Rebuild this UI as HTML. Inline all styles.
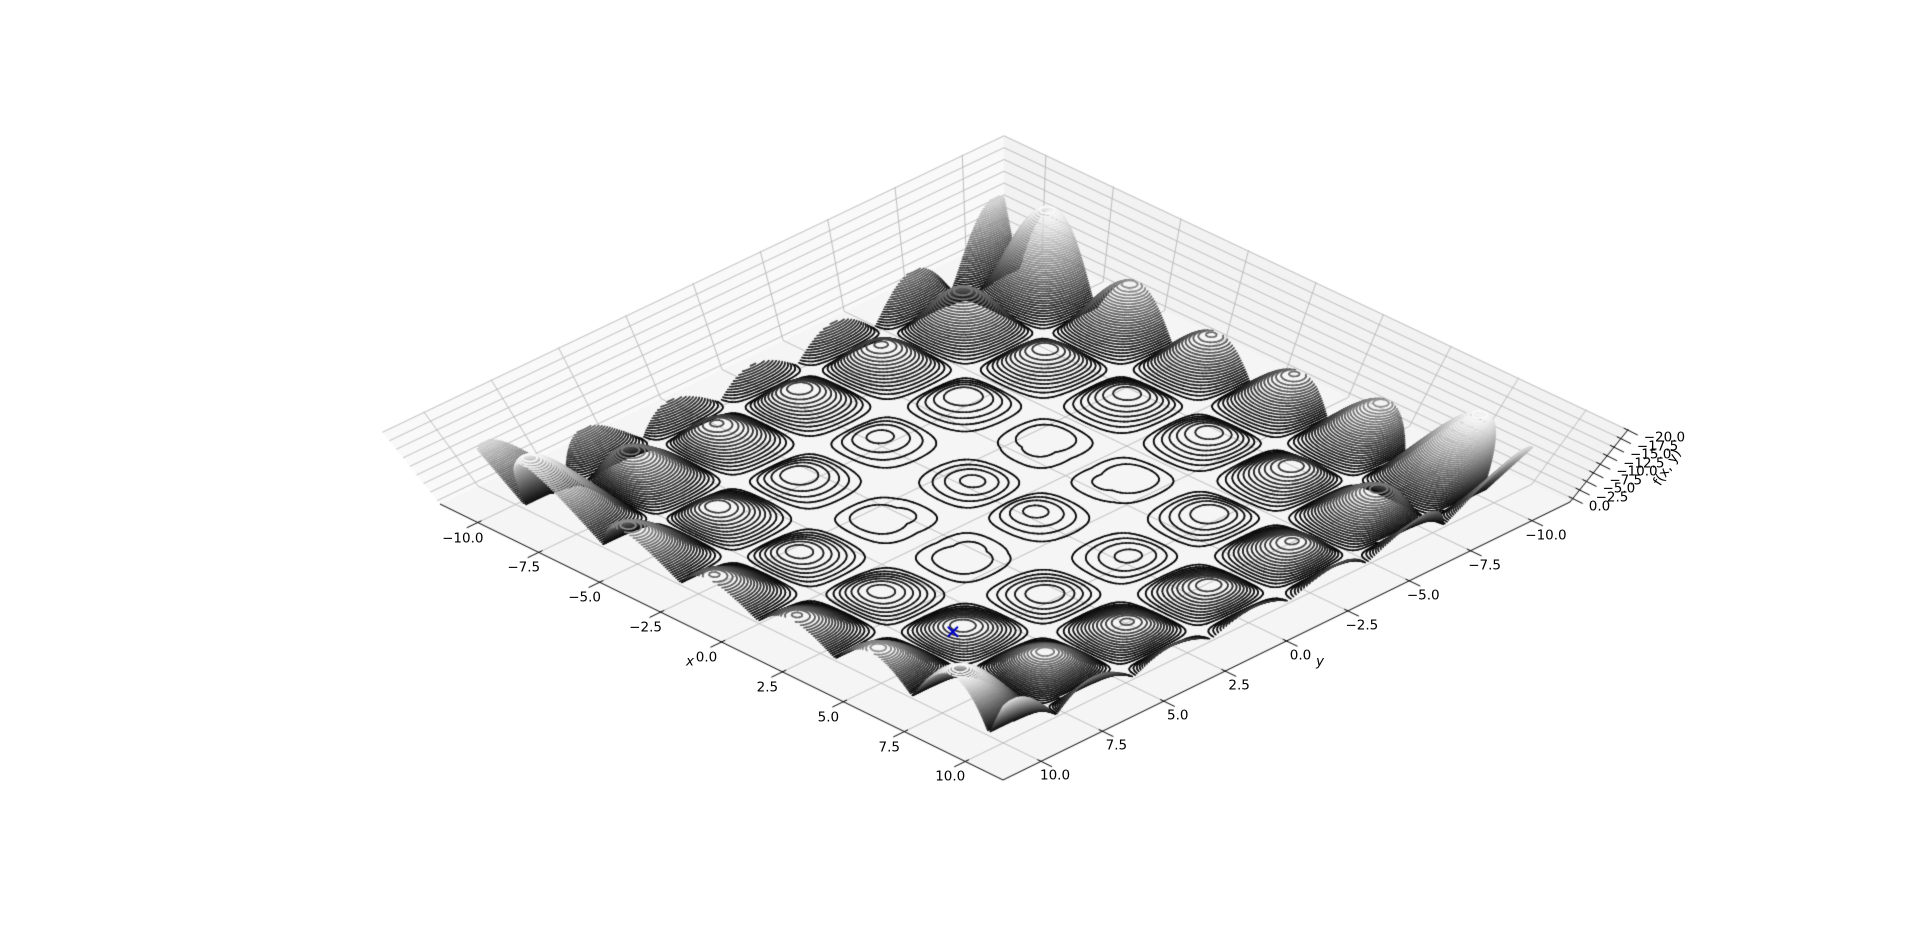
<!DOCTYPE html>
<html><head><meta charset="utf-8">
<style>
html,body{margin:0;padding:0;background:#fff;}
#wrap{position:relative;width:1920px;height:947px;overflow:hidden;font-family:"DejaVu Sans","Liberation Sans",sans-serif;}
canvas{position:absolute;left:0;top:0;}
.lbl{position:absolute;font-size:13.5px;color:#000;white-space:nowrap;line-height:1;}
</style></head>
<body>
<div id="wrap">
<canvas id="cv" width="1920" height="947"></canvas>
</div>
<script>
// ---- chart data ----
const xTicks = [-10, -7.5, -5, -2.5, 0, 2.5, 5, 7.5, 10];
const yTicks = [-10, -7.5, -5, -2.5, 0, 2.5, 5, 7.5, 10];
const zTicks = [0, -2.5, -5, -7.5, -10, -12.5, -15, -17.5, -20];
const xTickLabels = ["\u221210.0","\u22127.5","\u22125.0","\u22122.5","0.0","2.5","5.0","7.5","10.0"];
const yTickLabels = ["\u221210.0","\u22127.5","\u22125.0","\u22122.5","0.0","2.5","5.0","7.5","10.0"];
const zTickLabels = ["0.0","\u22122.5","\u22125.0","\u22127.5","\u221210.0","\u221212.5","\u221215.0","\u221217.5","\u221220.0"];
const domainX = [-10, 10];
const domainY = [-10, 10];
const levelRange = [-19.2, 0];
const levelCount = 49;
const markerPoint = [4.95, 6.98, -4.45];
// Holder table surface
function holder(x, y){ return -Math.abs(Math.sin(x)*Math.cos(y)*Math.exp(Math.abs(1 - Math.sqrt(x*x+y*y)/Math.PI))); }

// ---- projection ----
const H = 11.55;
const F=[1004,235], B=[1003,780], L=[440,504], R=[1570,502], VP=[1004,1207];
const Z0 = 1.0, Z1 = -20.2, KTOP = 1.103;
function proj(x,y,z){
  const u=(x+H)/(2*H), v=(y+H)/(2*H);
  const a=(1-u)*(1-v), b=u*v, c=(1-u)*v, d=u*(1-v);
  const px=F[0]*a+B[0]*b+L[0]*c+R[0]*d;
  const py=F[1]*a+B[1]*b+L[1]*c+R[1]*d;
  const k=1+(KTOP-1)*(Z0-z)/(Z0-Z1);
  return [VP[0]+k*(px-VP[0]), VP[1]+k*(py-VP[1])];
}
const cv=document.getElementById('cv');
const ctx=cv.getContext('2d');
const wrap=document.getElementById('wrap');
function poly(pts, fill){ctx.beginPath();pts.forEach((p,i)=>i?ctx.lineTo(p[0],p[1]):ctx.moveTo(p[0],p[1]));ctx.closePath();ctx.fillStyle=fill;ctx.fill();}
function line(p,q,col,w){ctx.beginPath();ctx.moveTo(p[0],p[1]);ctx.lineTo(q[0],q[1]);ctx.strokeStyle=col;ctx.lineWidth=w;ctx.stroke();}

// panes
poly([proj(-H,-H,Z0),proj(H,-H,Z0),proj(H,H,Z0),proj(-H,H,Z0)],'#f5f5f5');
poly([proj(-H,-H,Z0),proj(-H,H,Z0),proj(-H,H,Z1),proj(-H,-H,Z1)],'#f9f9f9');
poly([proj(-H,-H,Z0),proj(H,-H,Z0),proj(H,-H,Z1),proj(-H,-H,Z1)],'#f2f2f2');
const gc='#b8b8b8';
xTicks.forEach(t=>{line(proj(t,-H,Z0),proj(t,H,Z0),gc,0.9);line(proj(t,-H,Z0),proj(t,-H,Z1),gc,0.9);});
yTicks.forEach(t=>{line(proj(-H,t,Z0),proj(H,t,Z0),gc,0.9);line(proj(-H,t,Z0),proj(-H,t,Z1),gc,0.9);});
zTicks.forEach(t=>{line(proj(-H,-H,t),proj(-H,H,t),gc,0.9);line(proj(-H,-H,t),proj(H,-H,t),gc,0.9);});
// axes lines
line(proj(-H,H,Z0),proj(H,H,Z0),'#000',1);
line(proj(H,H,Z0),proj(H,-H,Z0),'#000',1);
line(proj(H,-H,Z0),proj(H,-H,Z1),'#000',1);

function addLabel(text,cx,cy,name,anchor,rot){
  const d=document.createElement('div');
  d.className='lbl';d.textContent=text;
  
  
  d.style.left=cx+'px';d.style.top=cy+'px';
  d.style.transform=(anchor==='left'?'translate(0,-50%)':'translate(-50%,-50%)')+(rot?' rotate('+rot+'deg)':'');
  wrap.appendChild(d);
  return d;
}
xTicks.forEach((t,i)=>{
  const p=proj(t,H-0.15,Z0), q=proj(t,H+0.45,Z0);line(p,q,'#000',1);
  const b=proj(t,H,Z0);addLabel(xTickLabels[i],b[0]-15,b[1]+16,'x-tick-label','c');
});
yTicks.forEach((t,i)=>{
  const p=proj(H-0.15,t,Z0), q=proj(H+0.45,t,Z0);line(p,q,'#000',1);
  const b=proj(H,t,Z0);addLabel(yTickLabels[i],b[0]+14,b[1]+15,'y-tick-label','c');
});
zTicks.forEach((t,i)=>{
  const b=proj(H,-H,t);line([b[0]-4,b[1]-2],[b[0]+10,b[1]+5],'#000',1);
  addLabel(zTickLabels[i],b[0]+16,b[1]+8,'z-tick-label','left');
});
addLabel('x',690,662,'x-axis-title','c').style.fontStyle='italic';
addLabel('y',1320,662,'y-axis-title','c').style.fontStyle='italic';
addLabel('f(x, y)',1668,468,'z-axis-title','c',-58);

// ---- contours ----
const N=260;
const gx=[];
for(let i=0;i<=N;i++) gx.push(domainX[0]+(domainX[1]-domainX[0])*i/N);
const gy=[];for(let j=0;j<=N;j++) gy.push(domainY[0]+(domainY[1]-domainY[0])*j/N);
const Zg=new Float64Array((N+1)*(N+1));
for(let i=0;i<=N;i++)for(let j=0;j<=N;j++)Zg[i*(N+1)+j]=holder(gx[i],gy[j]);
const levels=[];
for(let l=0;l<levelCount;l++) levels.push(levelRange[0]+(levelRange[1]-levelRange[0])*l/(levelCount-1)+0.0001);
const segs=[];
function interp(a,b,va,vb,lv){const t=(lv-va)/(vb-va);return a+(b-a)*t;}
for(let i=0;i<N;i++)for(let j=0;j<N;j++){
  const v00=Zg[i*(N+1)+j],v10=Zg[(i+1)*(N+1)+j],v11=Zg[(i+1)*(N+1)+j+1],v01=Zg[i*(N+1)+j+1];
  const mn=Math.min(v00,v10,v11,v01),mx=Math.max(v00,v10,v11,v01);
  const x0=gx[i],x1=gx[i+1],y0=gy[j],y1=gy[j+1];
  for(let l=0;l<levels.length;l++){
    const lv=levels[l]; if(lv<mn||lv>mx)continue;
    const pts=[];
    if((v00<lv)!==(v10<lv))pts.push([interp(x0,x1,v00,v10,lv),y0]);
    if((v10<lv)!==(v11<lv))pts.push([x1,interp(y0,y1,v10,v11,lv)]);
    if((v11<lv)!==(v01<lv))pts.push([interp(x1,x0,v11,v01,lv),y1]);
    if((v01<lv)!==(v00<lv))pts.push([x0,interp(y1,y0,v01,v00,lv)]);
    if(pts.length>=2){segs.push([pts[0],pts[1],l]);if(pts.length===4)segs.push([pts[2],pts[3],l]);}
  }
}
segs.forEach(s=>{s.push((s[0][0]+s[0][1]+s[1][0]+s[1][1])/40 + (-levels[s[2]])*0.012);});
segs.sort((a,b)=>a[3]-b[3]);
ctx.lineWidth=1.6;ctx.lineCap='round';
const lmin=levels[0],lmax=levels[levels.length-1];
segs.forEach(s=>{
  const lv=levels[s[2]];
  const t=(lv-lmin)/(lmax-lmin);
  const g=Math.round(255*(1-t));
  const p=proj(s[0][0],s[0][1],lv),q=proj(s[1][0],s[1][1],lv);
  ctx.beginPath();ctx.moveTo(p[0],p[1]);ctx.lineTo(q[0],q[1]);
  ctx.strokeStyle='rgb('+g+','+g+','+g+')';ctx.stroke();
});
// marker
const mp=proj(markerPoint[0],markerPoint[1],markerPoint[2]);
line([mp[0]-4.5,mp[1]-4.5],[mp[0]+4.5,mp[1]+4.5],'#0000cc',2);
line([mp[0]-4.5,mp[1]+4.5],[mp[0]+4.5,mp[1]-4.5],'#0000cc',2);
</script>
</body></html>
